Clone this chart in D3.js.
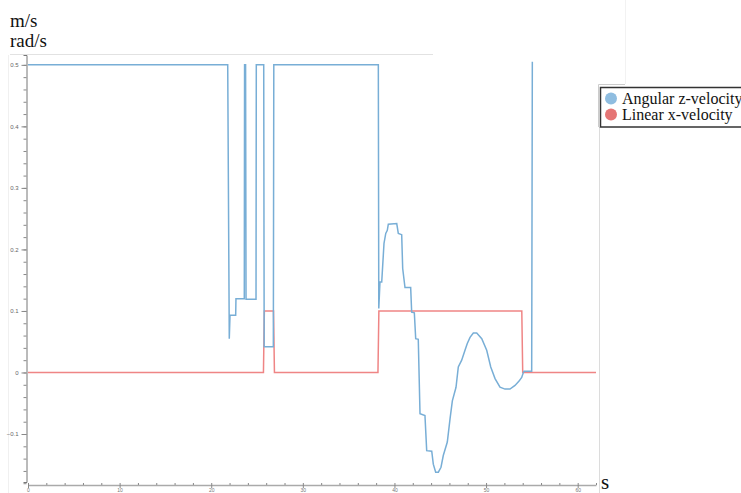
<!DOCTYPE html>
<html><head><meta charset="utf-8">
<script src="https://cdn.jsdelivr.net/npm/d3@7"></script>
<style>body{margin:0;background:#fff}svg{display:block}</style>
</head><body>
<svg id="c" width="741" height="493"></svg>
<script>
const seriesNames = ["Angular z-velocity", "Linear x-velocity"];
const angularT = [0,21.80,21.97,22.05,22.67,22.70,23.61,23.64,23.75,23.80,24.89,24.92,25.73,25.78,26.78,26.83,38.24,38.29,38.42,38.61,38.86,39.05,39.22,39.33,40.25,40.42,40.79,40.90,41.15,41.77,41.88,42.17,42.32,42.60,42.79,43.33,43.52,44.07,44.24,44.50,44.79,45.08,45.33,45.77,46.07,46.32,46.72,46.97,47.34,47.70,47.95,48.25,48.61,48.98,49.53,50.07,50.51,50.98,51.52,52.07,52.61,53.16,53.60,53.89,54.07,54.14,54.98,55.05];
const angularV = [0.5,0.5,0.055,0.093,0.093,0.12,0.12,0.5,0.5,0.119,0.119,0.5,0.5,0.042,0.042,0.5,0.5,0.104,0.147,0.147,0.21,0.226,0.231,0.241,0.242,0.226,0.224,0.169,0.138,0.138,0.098,0.097,0.055,0.054,-0.067,-0.070,-0.127,-0.128,-0.149,-0.162,-0.162,-0.154,-0.135,-0.113,-0.075,-0.046,-0.024,0.009,0.020,0.036,0.047,0.057,0.064,0.064,0.055,0.036,0.009,-0.010,-0.024,-0.027,-0.027,-0.021,-0.014,-0.008,0.0,0.002,0.002,0.505];
const linearT = [0,25.7,25.8,26.8,26.9,38.2,38.3,53.9,54.0,62.0];
const linearV = [0,0,0.1,0.1,0,0,0.1,0.1,0,0];
const yTicks = [-0.1,0,0.1,0.2,0.3,0.4,0.5];
const xTicks = [0,10,20,30,40,50,60];
const yUnits = ["m/s","rad/s"];
const xUnit = "s";

const svg = d3.select("#c");
const x = d3.scaleLinear().domain([0,62]).range([28,596]);
const y = d3.scaleLinear().domain([-0.178,0.516]).range([482,55]);
const blue = "#78aed6", red = "#ef8585";

// frame lines
svg.append("line").attr("x1",10).attr("x2",433).attr("y1",54.5).attr("y2",54.5).attr("stroke","#e2e2e2");
svg.append("line").attr("x1",8.5).attr("x2",8.5).attr("y1",55).attr("y2",493).attr("stroke","#f0f0f0");
svg.append("line").attr("x1",599.5).attr("x2",599.5).attr("y1",127).attr("y2",493).attr("stroke","#dcdcdc");
svg.append("line").attr("x1",625.5).attr("x2",625.5).attr("y1",0).attr("y2",84).attr("stroke","#f2f2f2");

// y axis
const yAxisG = svg.append("g").attr("transform","translate(26.5,0)");
yAxisG.call(d3.axisLeft(y).tickValues(d3.range(-0.18,0.501,0.02)).tickSize(3).tickFormat(""))
  .call(g=>g.select(".domain").attr("stroke","#777"))
  .call(g=>g.selectAll(".tick line").attr("stroke","#888"));
const yMaj = svg.append("g").attr("transform","translate(26.5,0)");
yMaj.call(d3.axisLeft(y).tickValues(yTicks).tickSize(5).tickPadding(3).tickFormat(d=>d3.format("")(+d.toFixed(2))))
  .call(g=>g.select(".domain").remove())
  .call(g=>g.selectAll(".tick line").attr("stroke","#888"))
  .call(g=>g.selectAll(".tick text").attr("fill","#666").style("font-size","6px").style("font-family","Liberation Sans, sans-serif"));

// x axis
const xMin = svg.append("g").attr("transform","translate(0,485)");
xMin.call(d3.axisTop(x).tickValues(d3.range(0,62.1,2)).tickSize(2).tickSizeOuter(0).tickFormat(""))
  .call(g=>g.select(".domain").attr("stroke","#aaa").attr("stroke-width",1.6))
  .call(g=>g.selectAll(".tick line").attr("stroke","#888"));
const xMaj = svg.append("g").attr("transform","translate(0,485)");
xMaj.call(d3.axisBottom(x).tickValues(xTicks).tickSize(3).tickPadding(0.5))
  .call(g=>g.select(".domain").remove())
  .call(g=>g.selectAll(".tick line").attr("stroke","#888"))
  .call(g=>g.selectAll(".tick text").attr("fill","#777").style("font-size","5px").style("font-family","Liberation Sans, sans-serif"));

// lines
const line = d3.line().x(d=>x(d[0])).y(d=>y(d[1]));
svg.append("path").datum(linearT.map((t,i)=>[t,linearV[i]])).attr("d",line)
  .attr("fill","none").attr("stroke",red).attr("stroke-width",1.5);
svg.append("path").datum(angularT.map((t,i)=>[t,angularV[i]])).attr("d",line)
  .attr("fill","none").attr("stroke",blue).attr("stroke-width",1.5);

// unit labels
const serif = "Liberation Serif, DejaVu Serif, serif";
svg.selectAll(".yu").data(yUnits).enter().append("text")
  .attr("x",10).attr("y",(d,i)=>26.5+i*20).text(d=>d)
  .style("font-family",serif).style("font-size","19px").attr("fill","#111");
svg.append("text").attr("x",601).attr("y",489).text(xUnit)
  .style("font-family",serif).style("font-size","21px").attr("fill","#111");

// legend
svg.append("polyline").attr("points","598.5,127 598.5,84.5 625,84.5").attr("fill","none").attr("stroke","#ccc");
svg.append("rect").attr("x",600.5).attr("y",87.5).attr("width",150).attr("height",39.5)
  .attr("fill","#fff").attr("stroke","#333").attr("stroke-width",1.5);
const legColors = ["#8fbde0", "#e57575"];
seriesNames.forEach((n,i)=>{
  svg.append("circle").attr("cx",611).attr("cy",98.5+i*16).attr("r",6).attr("fill",legColors[i]);
  svg.append("text").attr("x",622).attr("y",103.5+i*16).text(n)
    .style("font-family",serif).style("font-size","16px").attr("fill","#111");
});
</script>
</body></html>
